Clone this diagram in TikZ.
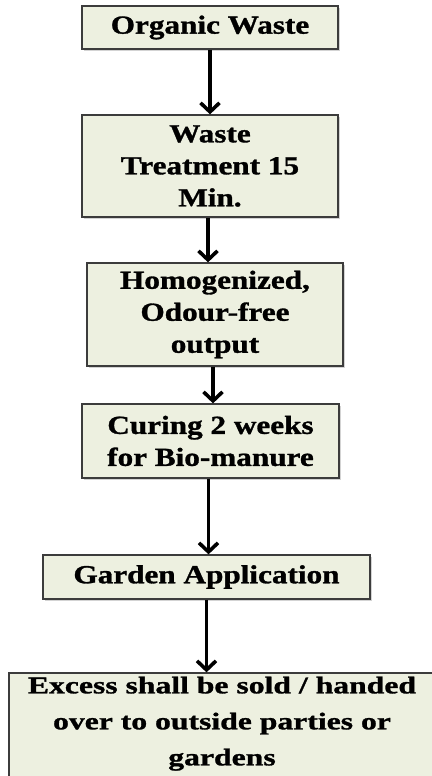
\documentclass[tikz,border=0pt]{standalone}
\usepackage{fontspec}
\newfontfamily\stagefont{Liberation Serif}[FakeStretch=1.2, FakeBold=1.2]
\newfontfamily\lastfont{Liberation Serif}[FakeStretch=1.32, FakeBold=1.2]
\usetikzlibrary{arrows.meta, positioning, shadows}
\definecolor{stagefill}{RGB}{237,240,224}
\definecolor{stageline}{RGB}{60,60,60}

\begin{document}
\begin{tikzpicture}[
  x=1pt, y=-1pt,
  stage/.style = {draw=stageline, line width=1.3pt, fill=stagefill, align=center,
                  inner sep=0pt, font=\stagefont\bfseries\fontsize{26}{32}\selectfont,
                  drop shadow={shadow xshift=2pt, shadow yshift=-2pt, opacity=0.35}},
  arrow/.style = {line width=3.6pt, -{Straight Barb[length=9pt, width=19pt]}}
]
  \useasboundingbox (0,0) rectangle (431,776);

  % Organic Waste box
  \node[stage, minimum width=256pt, minimum height=43pt] (waste) at (210,27.5) {Organic Waste};

  % Treatment box
  \node[stage, minimum width=256pt, minimum height=102pt] (treat) at (210,166)
    {Waste\\ Treatment 15\\ Min.};

  % Homogenized output box
  \node[stage, minimum width=256pt, minimum height=103pt] (homog) at (215,314.5)
    {Homogenized,\\ Odour-free\\ output};

  % Curing box
  \node[stage, minimum width=257pt, minimum height=74pt] (curing) at (210.5,441)
    {Curing 2 weeks\\ for Bio-manure};

  % Garden Application box
  \node[stage, minimum width=327pt, minimum height=44pt] (garden) at (206.5,577)
    {Garden Application};

  % Excess box (runs off the page)
  \node[stage, minimum width=426pt, minimum height=117pt,
        font=\lastfont\bfseries\fontsize{24}{36}\selectfont] (excess) at (222,731.5)
    {Excess shall be sold / handed\\ over to outside parties or\\ gardens\rule[-21pt]{0pt}{0pt}};

  % flow arrows
  \draw[arrow] (waste.south) -- (waste.south |- treat.north);
  \draw[arrow] ([xshift=-2pt]treat.south) -- ([xshift=-2pt]treat.south |- homog.north);
  \draw[arrow] ([xshift=-2pt]homog.south) -- ([xshift=-2pt]homog.south |- curing.north);
  \draw[arrow] ([xshift=-2pt]curing.south) -- ([xshift=-2pt]curing.south |- garden.north);
  \draw[arrow] (garden.south) -- (garden.south |- excess.north);

\end{tikzpicture}
\end{document}
